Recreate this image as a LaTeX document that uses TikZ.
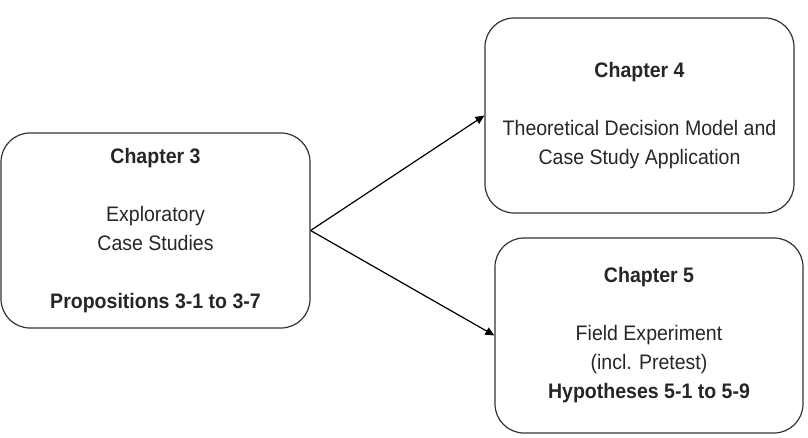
\documentclass[tikz,border=0pt]{standalone}
\usepackage{fontspec}
\setmainfont{Liberation Sans}[FakeStretch=0.93]
\usepackage{tikz}
\usetikzlibrary{arrows.meta}

\begin{document}
\begin{tikzpicture}[x=1pt, y=-1pt,
    chapbox/.style={draw=black!80, line width=1.2pt, rounded corners=29pt, minimum width=309pt, minimum height=195pt, align=center, inner sep=0pt, text=black!85, font=\fontsize{21}{29}\selectfont},
    every node/.style={}]
    \useasboundingbox (0,0) rectangle (808,438);

    % Chapter 3
    \node[chapbox] (ch3) at (155.5, 230.5) {\textbf{Chapter 3}\\[29pt] Exploratory\\ Case Studies\\[29pt] \textbf{Propositions 3-1 to 3-7}};

    % Chapter 4
    \node[chapbox] (ch4) at (639.5, 115.5) {\textbf{Chapter 4}\\[29pt] Theoretical Decision Model and\\ Case Study Application};

    % Chapter 5
    \node[chapbox, minimum width=308pt] (ch5) at (649, 335.5) {\textbf{Chapter 5}\\[29pt] Field Experiment\\ (incl. Pretest)\\ \textbf{Hypotheses 5-1 to 5-9}};

    % Arrows
    \draw[line width=1.2pt, ->, >={Triangle[length=9pt, width=8pt]}] (ch3.east) -- (ch4.west);
    \draw[line width=1.2pt, ->, >={Triangle[length=9pt, width=8pt]}] (ch3.east) -- (ch5.west);
\end{tikzpicture}
\end{document}
